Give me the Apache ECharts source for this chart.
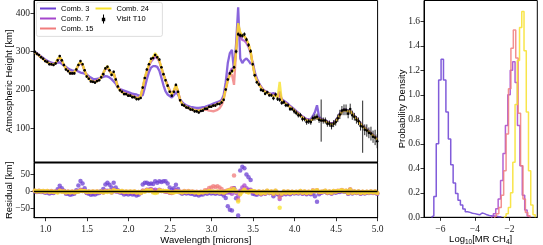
<!DOCTYPE html>
<html><head><meta charset="utf-8">
<script src="https://cdn.jsdelivr.net/npm/echarts@6/dist/echarts.min.js"></script>
<style>html,body{margin:0;padding:0;background:#fff}#c{width:543px;height:245px}</style>
</head><body><div id="c"></div>
<script>
// ---------------- data ----------------
const wavelength = [
0.87,0.895,0.92,0.945,0.97,0.995,1.02,1.045,1.07,1.095,
1.12,1.145,1.17,1.195,1.22,1.245,1.27,1.295,1.32,1.345,
1.37,1.395,1.42,1.445,1.47,1.495,1.52,1.545,1.57,1.595,
1.62,1.645,1.67,1.695,1.72,1.745,1.77,1.795,1.82,1.845,
1.87,1.895,1.92,1.945,1.97,1.995,2.02,2.045,2.07,2.095,
2.12,2.145,2.17,2.195,2.22,2.245,2.27,2.295,2.32,2.345,
2.37,2.395,2.42,2.445,2.47,2.495,2.52,2.545,2.57,2.595,
2.62,2.645,2.67,2.695,2.72,2.745,2.77,2.795,2.82,2.845,
2.87,2.895,2.92,2.945,2.97,2.995,3.02,3.045,3.07,3.095,
3.12,3.145,3.17,3.195,3.22,3.245,3.27,3.295,3.32,3.345,
3.37,3.395,3.42,3.445,3.47,3.495,3.52,3.545,3.57,3.595,
3.62,3.645,3.67,3.695,3.72,3.745,3.77,3.795,3.82,3.845,
3.87,3.895,3.92,3.945,3.97,3.995,4.02,4.045,4.07,4.095,
4.12,4.145,4.17,4.195,4.22,4.245,4.27,4.295,4.32,4.345,
4.37,4.395,4.42,4.445,4.47,4.495,4.52,4.545,4.57,4.595,
4.62,4.645,4.67,4.695,4.72,4.745,4.77,4.795,4.82,4.845,
4.87,4.895,4.92,4.945,4.97,4.995];

const visitT10 = [
299,294,291,285,281,275,273,267,267,265,
269,277,288,277,265,253,249,243,243,243,
253,265,275,267,251,235,229,222,221,219,
223,225,233,241,256,260,251,239,247,227,
209,199,195,189,189,185,185,181,181,176,
176,179,206,231,253,267,281,283,291,285,
279,259,241,225,211,195,185,195,213,195,
173,161,159,154,153,149,148,144,144,141,
145,146,151,151,156,156,159,159,163,163,
167,174,201,227,243,249,259,300,345,342,
341,345,331,317,301,267,238,220,214,200,
198,190,194,186,186,178,188,176,174,166,
168,160,160,150,150,144,140,134,134,124,
124,116,118,116,126,128,130,122,120,120,
120,112,112,106,112,116,126,136,146,148,
148,138,150,134,130,122,118,106,104,96,
94,88,86,78,76,66];

const visitT10Err = [
4,4,3,3,3,3,3,3,3,3,
3,3,3,3,3,3,3,3,3,3,
3,3,3,3,3,3,3,3,3,3,
3,3,3,3,3,3,3,3,3,3,
3,3,3,3,3,3,3,3,3,3,
3,3,3,3,3,3,3,3,3,3,
3,3,3,3,3,3,3,3,3,3,
3,3,3,3,3,3,3,3,3,3,
3,3,3,3,3,3,3,3,3,3,
3,3,3,3,4,4,4,5,5,5,
5,5,5,5,5,4,4,4,4,4,
4,4,4,4,4,5,5,5,5,5,
5,5,5,5,5,6,6,6,6,6,
6,7,7,7,7,8,8,8,55,8,
8,8,8,9,9,9,10,12,12,14,
14,12,14,12,10,10,10,12,68,14,
16,14,18,16,20,18];

const comb3 = [
299,296,291,287,283,279,276,273,271,270,
270,271,272,268,263,260,256,253,251,250,
250,248,245,244,242,240,236,232,229,228,
229,230,232,234,236,235,232,228,222,216,
206,202,200,198,196,194,192,190,189,188,
186,184,186,206,228,246,258,262,262,260,
250,232,212,196,188,184,180,186,194,188,
176,168,163,160,158,156,155,154,153,153,
154,155,156,158,160,162,164,166,168,170,
174,186,220,270,296,304,250,320,415,282,
270,278,282,276,268,274,246,230,218,208,
200,196,194,191,189,192,188,184,186,176,
172,168,164,158,154,150,145,140,135,131,
127,124,122,124,132,142,160,130,124,122,
120,117,114,112,114,120,128,138,145,149,
148,145,146,140,132,127,120,113,107,102,
97,93,88,83,78,73];

const comb7 = [
298,295,290,286,281,277,273,270,268,268,
270,277,283,276,265,257,251,247,245,247,
254,264,270,264,250,238,230,225,222,222,
224,228,234,244,254,258,249,242,243,227,
210,201,196,193,191,189,187,185,183,181,
180,184,204,230,248,262,274,280,286,283,
274,257,240,226,212,199,190,197,210,196,
175,165,160,157,154,152,150,148,147,147,
148,150,152,154,156,158,160,162,164,167,
170,180,205,230,246,256,250,305,360,340,
330,328,322,312,296,268,240,226,216,208,
201,197,194,191,188,186,190,182,196,174,
170,166,162,157,152,148,143,139,135,130,
126,123,121,122,125,128,128,126,123,122,
120,117,114,112,113,118,126,136,144,148,
147,144,145,139,131,126,119,112,106,101,
96,92,87,82,77,72];

const comb15 = [
297,294,289,285,280,276,272,268,266,266,
269,279,286,277,264,255,249,245,243,245,
253,265,272,266,250,237,229,224,221,221,
223,227,233,243,255,260,250,241,243,226,
208,200,194,191,189,187,185,183,181,179,
178,183,204,230,249,265,277,284,292,286,
276,258,240,225,211,198,188,197,212,196,
173,163,158,155,152,150,148,146,145,145,
146,148,148,148,146,145,144,146,148,152,
160,174,200,224,238,240,213,300,370,348,
340,340,331,319,300,267,238,224,214,206,
199,195,192,189,186,184,186,180,190,172,
168,164,160,155,151,147,141,137,133,128,
124,121,119,120,123,127,127,124,121,120,
118,115,112,110,111,116,124,134,142,147,
146,143,144,138,130,125,118,111,105,100,
95,91,86,81,76,71];

const comb24 = [
297,294,290,285,280,276,272,269,267,267,
270,280,286,278,265,256,250,246,244,246,
254,266,273,266,250,237,229,224,221,221,
223,227,233,244,256,262,250,242,244,226,
208,199,194,191,189,187,185,183,181,179,
178,184,206,232,250,266,278,286,296,288,
276,258,240,224,210,197,188,198,214,196,
174,164,159,156,153,151,149,147,146,146,
147,149,151,153,155,157,159,161,163,166,
168,178,202,226,240,248,252,300,374,350,
342,340,332,320,300,266,238,224,214,206,
199,195,192,189,186,184,186,180,221,172,
168,164,160,155,151,147,141,137,133,128,
124,121,119,120,124,128,127,124,121,121,
118,115,112,110,111,117,125,135,143,148,
146,143,145,138,130,125,118,111,105,100,
95,91,86,81,76,71];

// posterior histograms of log10 CH4 mixing ratio (density per bin)
const histBinStart = [-6.52, -3.07, -2.89, -2.32];
const histBinWidth = [0.14, 0.14, 0.14, 0.13];
const hist3 = [0.013,0.17,0.60,1.12,1.29,1.12,0.86,0.64,0.43,0.28,0.195,0.14,0.10,0.067,0.046,0.04,0.033,0.03,0.025,0.02,0.035,0.03,0.02,0.015,0.012,0.01,0.008,0.005,0.004];
const hist7 = [0.01,0.03,0.07,0.15,0.30,0.52,0.75,1.00,1.20,1.27,1.10,0.75,0.42,0.18,0.06,0.01];
const hist15 = [0.01,0.03,0.08,0.18,0.38,0.68,1.05,1.38,1.53,1.30,0.85,0.42,0.15,0.04,0.01];
const hist24 = [0.01,0.03,0.08,0.20,0.45,0.92,1.28,1.55,1.68,1.36,0.86,0.38,0.10,0.02];

const seriesNames = ['Comb. 3','Comb. 7','Comb. 15','Comb. 24'];
const dataName = 'Visit T10';

const wavelengthTicks = [1.0,1.5,2.0,2.5,3.0,3.5,4.0,4.5,5.0];
const heightTicks = [100,200,300,400];
const residualTicks = [-50,0,50];
const logMrTicks = [-6,-4,-2];
const densityTicks = [0,0.2,0.4,0.6,0.8,1.0,1.2,1.4,1.6];

// ---------------- style ----------------
const colors = ['#6b3fd3','#a546cc','#f07c7c','#f7e12a'];
const SERIF = "'Liberation Serif','DejaVu Serif',serif";
const SANS = "'Liberation Sans','Arial',sans-serif";
const minus = v => (v < 0 ? '\u2212' + Math.abs(v) : String(v));

const models = [comb3, comb7, comb15, comb24];
const hists = [hist3, hist7, hist15, hist24];

function tick(vals){return {show:true, customValues:vals, inside:false, length:3.5, lineStyle:{color:'#000', width:0.8}};}
function lab(vals, fmt, margin){return {show:true, customValues:vals, formatter:fmt, fontFamily:SERIF, fontSize:9.5, color:'#222', margin:margin};}
const axLine = {show:true, onZero:false, lineStyle:{color:'#000', width:1}};
const nameStyle = {fontFamily:SANS, fontSize:9.5, color:'#000'};

function histData(k){
  const s = histBinStart[k], w = histBinWidth[k], d = hists[k];
  const pts = [[s, 0]];
  d.forEach((v, i) => pts.push([s + i * w, v]));
  pts.push([s + d.length * w, 0]);
  return pts;
}

const series = [];
// model spectra
models.forEach((m, k) => {
  series.push({
    type:'line', name:seriesNames[k], xAxisIndex:0, yAxisIndex:0,
    data: wavelength.map((w, i) => [w, m[i]]),
    showSymbol:false, z:2+k*0.1,
    itemStyle:{color:colors[k]},
    lineStyle:{color:colors[k], width:2.3, opacity:0.8}
  });
});
// observed spectrum with error bars
series.push({
  type:'custom', name:dataName, xAxisIndex:0, yAxisIndex:0,
  data: wavelength.map((w, i) => [w, visitT10[i], visitT10Err[i]]),
  encode:{x:0, y:1}, z:5,
  itemStyle:{color:'#000'},
  renderItem(params, api){
    const x = api.value(0), y = api.value(1), e = api.value(2);
    const p = api.coord([x, y]);
    const lo = api.coord([x, y - e]);
    const hi = api.coord([x, y + e]);
    return {type:'group', children:[
      {type:'line', shape:{x1:p[0], y1:lo[1], x2:p[0], y2:hi[1]}, style:{stroke:'#111', lineWidth:0.9}},
      {type:'circle', shape:{cx:p[0], cy:p[1], r:1.3}, style:{fill:'#000'}}
    ]};
  }
});
// residuals (data - model)
models.forEach((m, k) => {
  const s = {
    type:'scatter', name:seriesNames[k], xAxisIndex:1, yAxisIndex:1,
    data: wavelength.map((w, i) => [w, visitT10[i] - m[i]]),
    symbol:'circle', symbolSize:4.5, z:3+k*0.1,
    itemStyle:{color:colors[k], opacity:0.75}
  };
  if (k === 0) {
    s.markLine = {silent:true, symbol:'none', label:{show:false}, animation:false,
      lineStyle:{color:'#000', width:1.3, type:'solid'}, data:[{yAxis:0}]};
  }
  series.push(s);
});
// histograms
hists.forEach((h, k) => {
  series.push({
    type:'line', name:seriesNames[k], xAxisIndex:2, yAxisIndex:2,
    data: histData(k), step:'end', showSymbol:false,
    itemStyle:{color:colors[k]},
    lineStyle:{color:colors[k], width:1.5, opacity:0.85}
  });
});

const lineIcon = 'path://M0,0h16v2h-16z';
const errIcon = 'path://M7.5,0h1v9h-1z M6.3,3.3h3.4v3.4h-3.4z';

const gridBase = {show:true, borderColor:'#000', borderWidth:1, containLabel:false, outerBoundsMode:'none'};

const option = {
  animation:false,
  backgroundColor:'#fff',
  grid:[
    Object.assign({left:34, top:0.5, width:343.6, height:161.5}, gridBase),
    Object.assign({left:34, top:163, width:343.6, height:54.7}, gridBase),
    Object.assign({left:424, top:0.5, width:113.3, height:216.8}, gridBase)
  ],
  xAxis:[
    {type:'value', gridIndex:0, min:0.86, max:5.0, axisLine:axLine, axisTick:{show:false}, axisLabel:{show:false}, splitLine:{show:false}},
    {type:'value', gridIndex:1, min:0.86, max:5.0, axisLine:axLine, axisTick:tick(wavelengthTicks),
      axisLabel:lab(wavelengthTicks, v => v.toFixed(1), 7), splitLine:{show:false},
      name:'Wavelength [microns]', nameLocation:'middle', nameGap:18, nameMoveOverlap:false,
      nameTextStyle:nameStyle},
    {type:'value', gridIndex:2, min:-6.95, max:-0.38, axisLine:axLine, axisTick:tick(logMrTicks),
      axisLabel:lab(logMrTicks, minus, 7), splitLine:{show:false},
      name:'{n|Log}{s|10}{n|[MR CH}{s|4}{n|]}', nameLocation:'middle', nameGap:17, nameMoveOverlap:false,
      nameTextStyle:{fontFamily:SANS, fontSize:9.5, color:'#000',
        rich:{n:{fontFamily:SANS, fontSize:9.5, color:'#000', lineHeight:11},
              s:{fontFamily:SANS, fontSize:6.5, color:'#000', lineHeight:6, verticalAlign:'bottom'}}}}
  ],
  yAxis:[
    {type:'value', gridIndex:0, min:12, max:433, axisLine:axLine, axisTick:tick(heightTicks),
      axisLabel:lab(heightTicks, v => String(v), 4), splitLine:{show:false},
      name:'Atmospheric Height [km]', nameLocation:'middle', nameGap:20, nameMoveOverlap:false,
      nameTextStyle:nameStyle},
    {type:'value', gridIndex:1, min:-76, max:82, axisLine:axLine, axisTick:tick(residualTicks),
      axisLabel:lab(residualTicks, minus, 4), splitLine:{show:false},
      name:'Residual [km]', nameLocation:'middle', nameGap:20, nameMoveOverlap:false,
      nameTextStyle:nameStyle},
    {type:'value', gridIndex:2, min:0, max:1.77, axisLine:axLine, axisTick:tick(densityTicks),
      axisLabel:lab(densityTicks, v => v.toFixed(1), 4), splitLine:{show:false},
      name:'Probability Density', nameLocation:'middle', nameGap:17, nameMoveOverlap:false,
      nameTextStyle:nameStyle}
  ],
  legend:{
    orient:'vertical', left:40, top:4.5, height:31, padding:0, itemGap:2,
    itemWidth:16, itemHeight:9, symbolKeepAspect:true, z:5,
    selectedMode:false,
    textStyle:{fontFamily:SANS, fontSize:7.5, color:'#000', width:44, overflow:'none'},
    data:[
      {name:seriesNames[0], icon:lineIcon},
      {name:seriesNames[1], icon:lineIcon},
      {name:seriesNames[2], icon:lineIcon},
      {name:seriesNames[3], icon:lineIcon},
      {name:dataName, icon:errIcon}
    ]
  },
  graphic:{elements:[
    {type:'rect', left:36, top:2, z:4, shape:{width:126, height:34, r:2},
      style:{fill:'#fff', stroke:'#d4d4d4', lineWidth:0.8}}
  ]},
  series:series
};

const chart = echarts.init(document.getElementById('c'), null, {renderer:'canvas', width:543, height:245});
chart.setOption(option);
</script>
</body></html>
